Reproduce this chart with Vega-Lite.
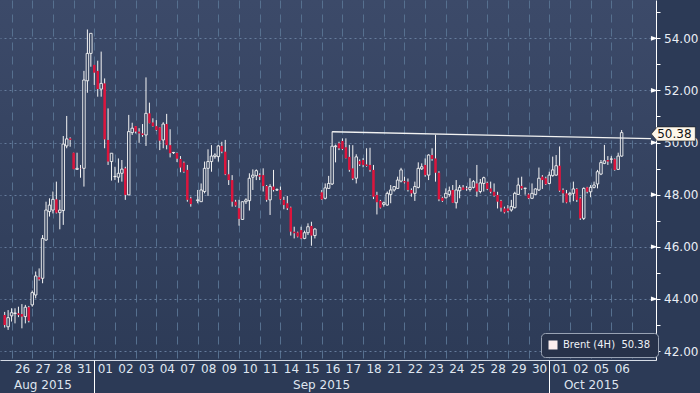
{
  "$schema": "https://vega.github.io/schema/vega-lite/v6.json",
  "width": 656,
  "height": 360,
  "autosize": {"type": "none"},
  "padding": {"left": 0, "top": 0, "right": 44, "bottom": 33},
  "background": "#2c3a56",
  "config": {
    "view": {"stroke": null, "fill": {"gradient": "linear", "x1": 0, "y1": 0, "x2": 0, "y2": 1, "stops": [{"offset": 0, "color": "#3c4a69"}, {"offset": 1, "color": "#2d3b57"}]}},
    "font": "DejaVu Sans"
  },
  "datasets": {
    "candles": [
      {"n":-1,"o":43.38,"h":43.50,"l":42.90,"c":43.00},
      {"n":0,"o":42.93,"h":43.57,"l":42.81,"c":43.28},
      {"n":1,"o":43.35,"h":43.64,"l":43.13,"c":43.47},
      {"n":2,"o":43.44,"h":43.64,"l":43.06,"c":43.46},
      {"n":3,"o":43.45,"h":43.70,"l":43.30,"c":43.38},
      {"n":4,"o":43.42,"h":43.80,"l":42.87,"c":43.32},
      {"n":5,"o":43.32,"h":43.77,"l":43.06,"c":43.68},
      {"n":6,"o":43.68,"h":43.73,"l":43.10,"c":43.16},
      {"n":7,"o":43.77,"h":44.32,"l":43.70,"c":44.24},
      {"n":8,"o":44.15,"h":45.05,"l":44.02,"c":44.88},
      {"n":9,"o":44.83,"h":45.17,"l":44.70,"c":44.75},
      {"n":10,"o":44.79,"h":46.45,"l":44.60,"c":46.32},
      {"n":11,"o":46.26,"h":47.73,"l":46.23,"c":47.41},
      {"n":12,"o":47.35,"h":47.86,"l":47.16,"c":47.60},
      {"n":13,"o":47.41,"h":48.12,"l":47.28,"c":47.82},
      {"n":14,"o":47.82,"h":48.50,"l":47.28,"c":47.31},
      {"n":15,"o":47.31,"h":47.80,"l":46.67,"c":47.41},
      {"n":16,"o":47.39,"h":50.25,"l":46.84,"c":49.94},
      {"n":17,"o":49.87,"h":51.02,"l":49.78,"c":50.14},
      {"n":18,"o":50.16,"h":50.20,"l":49.84,"c":50.10},
      {"n":19,"o":49.61,"h":49.61,"l":48.98,"c":48.98},
      {"n":20,"o":48.97,"h":49.61,"l":48.95,"c":49.01},
      {"n":21,"o":49.01,"h":49.14,"l":48.65,"c":49.00},
      {"n":22,"o":49.01,"h":52.75,"l":48.31,"c":52.40},
      {"n":23,"o":52.37,"h":54.34,"l":51.91,"c":53.42},
      {"n":24,"o":53.42,"h":54.19,"l":52.91,"c":54.19},
      {"n":25,"o":52.98,"h":52.98,"l":52.21,"c":52.68},
      {"n":26,"o":52.75,"h":53.14,"l":51.76,"c":52.05},
      {"n":27,"o":52.05,"h":53.49,"l":51.76,"c":52.27},
      {"n":28,"o":52.27,"h":52.46,"l":49.78,"c":50.12},
      {"n":29,"o":50.10,"h":51.31,"l":49.14,"c":49.27},
      {"n":30,"o":49.27,"h":49.59,"l":48.54,"c":49.59},
      {"n":31,"o":48.69,"h":49.07,"l":48.56,"c":48.70},
      {"n":32,"o":48.67,"h":49.39,"l":48.46,"c":48.82},
      {"n":33,"o":48.82,"h":49.33,"l":48.50,"c":48.98},
      {"n":34,"o":49.01,"h":49.07,"l":47.80,"c":47.99},
      {"n":35,"o":47.99,"h":51.06,"l":47.99,"c":50.42},
      {"n":36,"o":50.38,"h":50.76,"l":50.29,"c":50.55},
      {"n":37,"o":50.63,"h":50.63,"l":50.35,"c":50.42},
      {"n":38,"o":50.42,"h":50.55,"l":49.99,"c":50.35},
      {"n":39,"o":50.35,"h":50.71,"l":50.22,"c":50.29},
      {"n":40,"o":50.29,"h":52.50,"l":49.87,"c":51.12},
      {"n":41,"o":51.12,"h":51.53,"l":50.74,"c":50.74},
      {"n":42,"o":50.77,"h":50.93,"l":50.61,"c":50.63},
      {"n":43,"o":50.63,"h":50.86,"l":50.45,"c":50.48},
      {"n":44,"o":50.58,"h":50.58,"l":49.71,"c":50.07},
      {"n":45,"o":50.10,"h":50.78,"l":49.78,"c":50.71},
      {"n":46,"o":50.71,"h":51.10,"l":49.74,"c":49.90},
      {"n":47,"o":49.90,"h":50.51,"l":49.43,"c":49.59},
      {"n":48,"o":49.61,"h":49.64,"l":49.56,"c":49.62},
      {"n":49,"o":49.60,"h":49.62,"l":49.25,"c":49.38},
      {"n":50,"o":49.37,"h":49.48,"l":48.86,"c":49.04},
      {"n":51,"o":49.23,"h":49.27,"l":48.84,"c":48.88},
      {"n":52,"o":48.95,"h":49.14,"l":47.73,"c":47.80},
      {"n":53,"o":47.86,"h":47.92,"l":47.54,"c":47.64},
      {"n":55,"o":47.77,"h":48.18,"l":47.67,"c":47.80},
      {"n":56,"o":47.73,"h":48.43,"l":47.73,"c":48.18},
      {"n":57,"o":48.12,"h":49.27,"l":48.05,"c":49.01},
      {"n":58,"o":49.01,"h":49.74,"l":47.95,"c":49.27},
      {"n":59,"o":49.27,"h":49.90,"l":48.88,"c":49.48},
      {"n":60,"o":49.46,"h":49.59,"l":49.38,"c":49.52},
      {"n":61,"o":49.46,"h":49.90,"l":49.27,"c":49.87},
      {"n":62,"o":49.87,"h":50.03,"l":49.59,"c":49.65},
      {"n":63,"o":49.65,"h":50.10,"l":48.75,"c":48.78},
      {"n":64,"o":48.78,"h":49.33,"l":48.37,"c":48.56},
      {"n":65,"o":48.56,"h":48.75,"l":47.54,"c":47.73},
      {"n":66,"o":47.73,"h":47.80,"l":47.54,"c":47.58},
      {"n":67,"o":47.48,"h":47.80,"l":46.81,"c":47.07},
      {"n":68,"o":47.05,"h":47.73,"l":47.03,"c":47.73},
      {"n":69,"o":47.73,"h":47.86,"l":47.64,"c":47.80},
      {"n":70,"o":47.77,"h":48.82,"l":47.39,"c":48.63},
      {"n":71,"o":48.67,"h":48.97,"l":48.18,"c":48.75},
      {"n":72,"o":48.73,"h":48.97,"l":48.56,"c":48.92},
      {"n":73,"o":48.75,"h":48.82,"l":48.56,"c":48.69},
      {"n":74,"o":48.75,"h":49.01,"l":48.12,"c":48.33},
      {"n":75,"o":48.33,"h":48.37,"l":47.73,"c":47.80},
      {"n":76,"o":47.80,"h":48.40,"l":47.22,"c":48.31},
      {"n":77,"o":48.31,"h":48.95,"l":48.12,"c":48.18},
      {"n":78,"o":48.18,"h":48.24,"l":48.14,"c":48.19},
      {"n":79,"o":48.18,"h":48.31,"l":47.80,"c":47.82},
      {"n":80,"o":47.80,"h":47.92,"l":47.44,"c":47.60},
      {"n":81,"o":47.67,"h":47.95,"l":47.41,"c":47.48},
      {"n":82,"o":47.51,"h":47.54,"l":46.43,"c":46.58},
      {"n":83,"o":46.58,"h":46.77,"l":46.32,"c":46.52},
      {"n":84,"o":46.55,"h":46.58,"l":46.36,"c":46.39},
      {"n":85,"o":46.64,"h":46.77,"l":46.29,"c":46.32},
      {"n":86,"o":46.32,"h":46.62,"l":46.29,"c":46.54},
      {"n":87,"o":46.54,"h":46.90,"l":46.45,"c":46.77},
      {"n":88,"o":46.80,"h":46.96,"l":46.04,"c":46.43},
      {"n":89,"o":46.43,"h":46.71,"l":46.32,"c":46.68},
      {"n":91,"o":48.09,"h":48.18,"l":47.80,"c":47.82},
      {"n":92,"o":47.86,"h":48.43,"l":47.82,"c":48.26},
      {"n":93,"o":48.24,"h":48.72,"l":48.24,"c":48.43},
      {"n":94,"o":48.41,"h":50.42,"l":48.37,"c":49.86},
      {"n":95,"o":49.84,"h":49.92,"l":49.24,"c":49.87},
      {"n":96,"o":49.97,"h":50.03,"l":49.71,"c":49.78},
      {"n":97,"o":50.06,"h":50.16,"l":49.71,"c":49.75},
      {"n":98,"o":49.82,"h":50.16,"l":49.39,"c":49.40},
      {"n":99,"o":49.45,"h":49.91,"l":48.88,"c":48.95},
      {"n":100,"o":49.01,"h":49.90,"l":48.56,"c":48.62},
      {"n":101,"o":48.63,"h":49.55,"l":48.43,"c":49.45},
      {"n":102,"o":49.29,"h":49.35,"l":49.10,"c":49.16},
      {"n":103,"o":49.33,"h":49.40,"l":49.05,"c":49.14},
      {"n":104,"o":49.16,"h":49.78,"l":49.07,"c":49.10},
      {"n":105,"o":49.14,"h":49.80,"l":48.88,"c":48.95},
      {"n":106,"o":48.95,"h":49.14,"l":47.83,"c":47.92},
      {"n":107,"o":47.99,"h":48.11,"l":47.24,"c":47.71},
      {"n":108,"o":47.76,"h":47.80,"l":47.47,"c":47.50},
      {"n":109,"o":47.63,"h":47.73,"l":47.54,"c":47.69},
      {"n":110,"o":47.60,"h":48.12,"l":47.58,"c":48.05},
      {"n":111,"o":48.01,"h":48.37,"l":47.67,"c":48.18},
      {"n":112,"o":48.18,"h":48.33,"l":48.12,"c":48.31},
      {"n":113,"o":48.24,"h":48.69,"l":48.24,"c":48.56},
      {"n":114,"o":48.52,"h":49.03,"l":48.47,"c":48.95},
      {"n":115,"o":48.52,"h":48.69,"l":48.43,"c":48.47},
      {"n":116,"o":48.50,"h":48.62,"l":48.12,"c":48.18},
      {"n":117,"o":48.18,"h":48.24,"l":47.92,"c":48.05},
      {"n":118,"o":48.05,"h":48.50,"l":47.76,"c":48.31},
      {"n":119,"o":48.28,"h":49.24,"l":48.24,"c":49.01},
      {"n":120,"o":48.99,"h":49.20,"l":48.95,"c":49.07},
      {"n":121,"o":49.14,"h":49.39,"l":48.69,"c":48.75},
      {"n":122,"o":48.75,"h":49.55,"l":48.56,"c":49.52},
      {"n":123,"o":49.52,"h":49.78,"l":49.30,"c":49.37},
      {"n":124,"o":49.39,"h":50.30,"l":48.50,"c":48.84},
      {"n":125,"o":48.84,"h":48.90,"l":47.75,"c":47.82},
      {"n":126,"o":47.88,"h":47.92,"l":47.72,"c":47.76},
      {"n":127,"o":47.88,"h":48.24,"l":47.86,"c":48.05},
      {"n":128,"o":48.01,"h":48.31,"l":47.92,"c":48.15},
      {"n":129,"o":48.18,"h":48.37,"l":47.69,"c":47.69},
      {"n":130,"o":47.69,"h":48.56,"l":47.47,"c":48.18},
      {"n":131,"o":48.15,"h":48.37,"l":47.86,"c":48.28},
      {"n":132,"o":48.28,"h":48.37,"l":48.18,"c":48.18},
      {"n":133,"o":48.24,"h":48.33,"l":48.15,"c":48.22},
      {"n":134,"o":48.20,"h":48.63,"l":48.12,"c":48.28},
      {"n":135,"o":48.28,"h":48.56,"l":48.24,"c":48.50},
      {"n":136,"o":48.43,"h":49.14,"l":47.92,"c":48.12},
      {"n":137,"o":48.12,"h":48.60,"l":48.05,"c":48.45},
      {"n":138,"o":48.43,"h":48.69,"l":48.12,"c":48.65},
      {"n":139,"o":48.45,"h":48.50,"l":48.18,"c":48.22},
      {"n":140,"o":48.24,"h":48.50,"l":48.05,"c":48.11},
      {"n":141,"o":48.11,"h":48.43,"l":47.92,"c":47.96},
      {"n":142,"o":47.99,"h":48.11,"l":47.47,"c":47.73},
      {"n":143,"o":47.76,"h":47.80,"l":47.35,"c":47.50},
      {"n":144,"o":47.47,"h":47.54,"l":47.28,"c":47.32},
      {"n":145,"o":47.47,"h":47.60,"l":47.32,"c":47.37},
      {"n":146,"o":47.41,"h":47.80,"l":47.35,"c":47.55},
      {"n":147,"o":47.50,"h":48.11,"l":47.47,"c":48.05},
      {"n":148,"o":48.01,"h":48.65,"l":47.99,"c":48.37},
      {"n":149,"o":48.33,"h":48.69,"l":48.18,"c":48.24},
      {"n":150,"o":48.24,"h":48.26,"l":48.00,"c":48.25},
      {"n":151,"o":48.01,"h":48.05,"l":47.83,"c":47.86},
      {"n":152,"o":47.86,"h":48.43,"l":47.83,"c":48.05},
      {"n":153,"o":48.01,"h":48.24,"l":47.99,"c":48.22},
      {"n":154,"o":48.18,"h":49.04,"l":48.14,"c":48.63},
      {"n":155,"o":48.69,"h":48.75,"l":48.22,"c":48.56},
      {"n":156,"o":48.63,"h":48.69,"l":48.37,"c":48.40},
      {"n":157,"o":48.43,"h":48.88,"l":48.40,"c":48.75},
      {"n":158,"o":48.73,"h":49.46,"l":48.69,"c":48.95},
      {"n":159,"o":48.75,"h":49.52,"l":48.73,"c":49.11},
      {"n":160,"o":49.11,"h":49.85,"l":48.11,"c":48.15},
      {"n":161,"o":48.18,"h":48.24,"l":47.69,"c":48.05},
      {"n":162,"o":48.05,"h":48.18,"l":47.67,"c":47.70},
      {"n":163,"o":47.99,"h":48.11,"l":47.71,"c":48.05},
      {"n":164,"o":48.05,"h":48.50,"l":47.75,"c":48.22},
      {"n":165,"o":48.22,"h":48.25,"l":47.72,"c":47.80},
      {"n":166,"o":47.86,"h":47.90,"l":47.03,"c":47.09},
      {"n":167,"o":47.09,"h":48.28,"l":47.03,"c":48.24},
      {"n":168,"o":48.28,"h":48.30,"l":48.05,"c":48.11},
      {"n":169,"o":48.11,"h":48.37,"l":47.90,"c":48.28},
      {"n":170,"o":48.28,"h":48.50,"l":48.24,"c":48.37},
      {"n":171,"o":48.41,"h":48.95,"l":48.24,"c":48.88},
      {"n":172,"o":48.79,"h":49.33,"l":48.75,"c":49.23},
      {"n":173,"o":49.20,"h":49.91,"l":49.17,"c":49.30},
      {"n":174,"o":49.33,"h":49.48,"l":49.14,"c":49.27},
      {"n":175,"o":49.36,"h":49.48,"l":49.20,"c":49.37},
      {"n":176,"o":49.36,"h":49.39,"l":48.92,"c":48.95},
      {"n":177,"o":48.97,"h":49.61,"l":48.95,"c":49.48},
      {"n":178,"o":49.48,"h":50.48,"l":49.46,"c":50.38}
    ],
    "trend": [{"n": 94, "p": 50.415}, {"n": 186.5, "p": 50.15}],
    "majors": [{"v": 42}, {"v": 44}, {"v": 46}, {"v": 48}, {"v": 50}, {"v": 52}, {"v": 54}],
    "last": [{"series": "Brent (4H)\u00a0 50.38", "n": 178, "p": 50.38, "label": "50.38"}]
  },
  "resolve": {"axis": {"x": "independent", "y": "independent"}},
  "layer": [
    {
      "data": {"name": "candles"},
      "mark": {"type": "rule", "color": "#f4f4f4", "strokeWidth": 1},
      "encoding": {
        "x": {"field": "n", "type": "quantitative", "scale": {"domain": [-0.905, 186.52], "nice": false, "zero": false},
          "axis": {"orient": "bottom", "title": null,
            "values": [1,7,13,19,25,31,37,43,49,55,61,67,73,79,85,91,97,103,109,115,121,127,133,139,145,151,157,163,169,175,181],
            "labelExpr": "['26','27','28','31','01','02','03','04','07','08','09','10','11','14','15','16','17','18','21','22','23','24','25','28','29','30','01','02','05','06',''][(datum.value-1)/6]",
            "labelOffset": 10.5, "ticks": false, "domain": true, "domainColor": "#d5dbe5", "domainWidth": 1,
            "grid": true, "gridColor": "#56708f", "gridDash": [8, 6], "gridWidth": 1,
            "labelFont": "DejaVu Sans", "labelFontSize": 12, "labelColor": "#dfe5ef", "labelPadding": 3.5,
            "labelFlush": false, "labelOverlap": false, "labelBound": false}},
        "y": {"field": "l", "type": "quantitative", "scale": {"domain": [41.655, 55.47], "nice": false, "zero": false},
          "axis": {"orient": "right", "title": null,
            "values": [42,43,44,45,46,47,48,49,50,51,52,53,54,55],
            "labelExpr": "datum.value % 2 === 0 ? format(datum.value, '.2f') : ''",
            "tickSize": 4, "tickColor": "#ffffff", "tickWidth": 1, "domainColor": "#ffffff", "domainWidth": 1,
            "grid": true, "gridColor": "#6a82a3", "gridDash": [2, 3], "gridWidth": 1,
            "gridOpacity": {"condition": {"test": "datum.value % 2 === 0", "value": 0.9}, "value": 0},
            "labelFont": "DejaVu Sans", "labelFontSize": 12, "labelColor": "#e9edf4", "labelPadding": 3.6,
            "labelFlush": false, "labelOverlap": false, "labelBound": false}},
        "y2": {"field": "h"}
      }
    },
    {
      "data": {"name": "candles"},
      "mark": {"type": "bar", "width": 2.5},
      "encoding": {
        "x": {"field": "n", "type": "quantitative", "scale": {"domain": [-0.905, 186.52], "nice": false, "zero": false},
          "axis": {"orient": "bottom", "title": null, "values": [9.95, 90.8, 169.1],
            "labelExpr": "datum.value < 50 ? 'Aug 2015' : datum.value < 150 ? 'Sep 2015' : 'Oct 2015'",
            "ticks": false, "domain": false, "grid": false,
            "labelFont": "DejaVu Sans", "labelFontSize": 12, "labelColor": "#dfe5ef", "labelPadding": 19,
            "labelFlush": false, "labelOverlap": false, "labelBound": false}},
        "y": {"field": "o", "type": "quantitative", "scale": {"domain": [41.655, 55.47], "nice": false, "zero": false}, "axis": null},
        "y2": {"field": "c"},
        "fill": {"condition": {"test": "datum.c >= datum.o", "value": "#34425e"}, "value": "#dc143c"},
        "stroke": {"condition": {"test": "datum.c >= datum.o", "value": "#f4f4f4"}, "value": "#dc143c"},
        "strokeWidth": {"condition": {"test": "datum.c >= datum.o", "value": 0.9}, "value": 0}
      }
    },
    {
      "data": {"name": "trend"},
      "mark": {"type": "line", "color": "#f2f2f2", "strokeWidth": 1.3},
      "encoding": {
        "x": {"field": "n", "type": "quantitative", "scale": {"domain": [-0.905, 186.52], "nice": false, "zero": false},
          "axis": {"orient": "bottom", "title": null, "values": [25, 157], "tickSize": 33, "tickColor": "#ffffff", "tickWidth": 1,
            "labels": false, "domain": false, "grid": false}},
        "y": {"field": "p", "type": "quantitative", "scale": {"domain": [41.655, 55.47], "nice": false, "zero": false}, "axis": null}
      }
    },
    {
      "data": {"name": "majors"},
      "mark": {"type": "point", "shape": "M-1,-0.7L1,0L-1,0.7Z", "filled": true, "size": 45, "color": "#ffffff", "opacity": 1},
      "encoding": {
        "x": {"datum": 187.48, "type": "quantitative", "scale": {"domain": [-0.905, 186.52], "nice": false, "zero": false}, "axis": null},
        "y": {"field": "v", "type": "quantitative", "scale": {"domain": [41.655, 55.47], "nice": false, "zero": false}, "axis": null}
      }
    },
    {
      "data": {"name": "last"},
      "mark": {"type": "point", "shape": "M-1,0L-0.73,-0.32L1,-0.32L1,0.32L-0.73,0.32Z", "filled": true, "size": 1936, "fill": "#fdf6ea", "stroke": "#1a1a1a", "strokeWidth": 0.6, "opacity": 1},
      "encoding": {
        "x": {"datum": 193.0, "type": "quantitative", "scale": {"domain": [-0.905, 186.52], "nice": false, "zero": false}, "axis": null},
        "y": {"datum": 50.33, "type": "quantitative", "scale": {"domain": [41.655, 55.47], "nice": false, "zero": false}, "axis": null}
      }
    },
    {
      "data": {"name": "last"},
      "mark": {"type": "text", "font": "DejaVu Sans", "fontSize": 12, "color": "#111111", "align": "center", "baseline": "middle", "dx": 1},
      "encoding": {
        "x": {"datum": 193.0, "type": "quantitative", "scale": {"domain": [-0.905, 186.52], "nice": false, "zero": false}, "axis": null},
        "y": {"datum": 50.33, "type": "quantitative", "scale": {"domain": [41.655, 55.47], "nice": false, "zero": false}, "axis": null},
        "text": {"field": "label"}
      }
    },
    {
      "data": {"name": "last"},
      "mark": {"type": "point", "shape": "square", "filled": true, "opacity": 0, "size": 10},
      "encoding": {
        "x": {"field": "n", "type": "quantitative", "scale": {"domain": [-0.905, 186.52], "nice": false, "zero": false}, "axis": null},
        "y": {"field": "p", "type": "quantitative", "scale": {"domain": [41.655, 55.47], "nice": false, "zero": false}, "axis": null},
        "color": {"field": "series", "type": "nominal", "scale": {"range": ["#fbeeee"]},
          "legend": {"title": null, "orient": "none", "legendX": 541, "legendY": 333,
            "fillColor": "#27324a", "strokeColor": "#98a2b3", "cornerRadius": 4, "padding": 7,
            "symbolType": "square", "symbolSize": 81, "symbolStrokeWidth": 0, "symbolOpacity": 1,
            "labelFont": "DejaVu Sans", "labelFontSize": 10, "labelColor": "#eef1f6", "labelOffset": 5, "labelLimit": 200,
            "encode": {"symbols": {"update": {"opacity": {"value": 1}, "fill": {"value": "#fbeeee"}, "fillOpacity": {"value": 1}}}}}}
      }
    }
  ]
}
